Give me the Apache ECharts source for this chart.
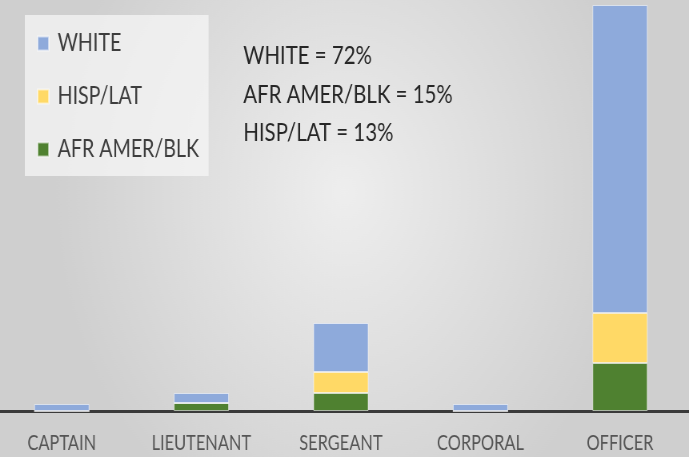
<!DOCTYPE html>
<html>
<head>
<meta charset="utf-8">
<script src="https://cdn.jsdelivr.net/npm/echarts@6/dist/echarts.min.js"></script>
<style>
html,body{margin:0;padding:0;width:689px;height:457px;overflow:hidden;}
#c{width:861px;height:457px;transform:scaleX(0.80023);transform-origin:0 0;}
</style>
</head>
<body>
<div id="c"></div>
<script>
const categories = ['CAPTAIN', 'LIEUTENANT', 'SERGEANT', 'CORPORAL', 'OFFICER'];
const afrAmerBlk = [0, 8, 18, 0, 48];
const hispLat = [0, 0, 21, 0, 50];
const white = [7, 10, 49, 7, 308];
const legendNames = ['WHITE', 'HISP/LAT', 'AFR AMER/BLK'];
const notes = ['WHITE = 72%', 'AFR AMER/BLK = 15%', 'HISP/LAT = 13%'];

const FONT = 'Lato';
const chart = echarts.init(document.getElementById('c'));
const barStyle = (c) => ({ color: c, borderColor: 'rgba(255,255,255,0.55)', borderWidth: 1 });
chart.setOption({
  animation: false,
  backgroundColor: {
    type: 'radial', x: 0.5, y: 0.42, r: 0.8,
    colorStops: [{ offset: 0, color: '#eeeeee' }, { offset: 1, color: '#cfcfcf' }]
  },
  grid: { left: -10, right: -1, top: 0, bottom: 46, containLabel: false, outerBoundsMode: 'none' },
  legend: {
    data: legendNames,
    orient: 'vertical',
    left: 31, top: 15,
    backgroundColor: 'rgba(245,245,245,0.75)',
    padding: [16, 12, 14, 15],
    itemWidth: 14, itemHeight: 14, itemGap: 28,
    icon: 'rect',
    textStyle: { fontFamily: FONT, fontSize: 24.5, color: '#3d3d3d', lineHeight: 24, padding: [0, 0, 0, 6] }
  },
  xAxis: {
    type: 'category', data: categories,
    axisLine: { lineStyle: { color: '#3a3a3a', width: 3 } },
    axisTick: { show: false },
    axisLabel: { interval: 0, fontFamily: FONT, fontSize: 20.5, color: '#555555', margin: 22 }
  },
  yAxis: { type: 'value', min: 0, max: 411, show: false, splitLine: { show: false } },
  graphic: notes.map((t, i) => ({
    type: 'text', x: 304, y: 56 + i * 38.5,
    style: { text: t, font: '25.5px ' + FONT, fill: '#262626', verticalAlign: 'middle' }
  })),
  series: [
    { name: 'AFR AMER/BLK', type: 'bar', stack: 's', data: afrAmerBlk, barWidth: 69, itemStyle: barStyle('#4f8130') },
    { name: 'HISP/LAT', type: 'bar', stack: 's', data: hispLat, barWidth: 69, itemStyle: barStyle('#ffd966') },
    { name: 'WHITE', type: 'bar', stack: 's', data: white, barWidth: 69, itemStyle: barStyle('#8eaadb') }
  ]
});
</script>
</body>
</html>
